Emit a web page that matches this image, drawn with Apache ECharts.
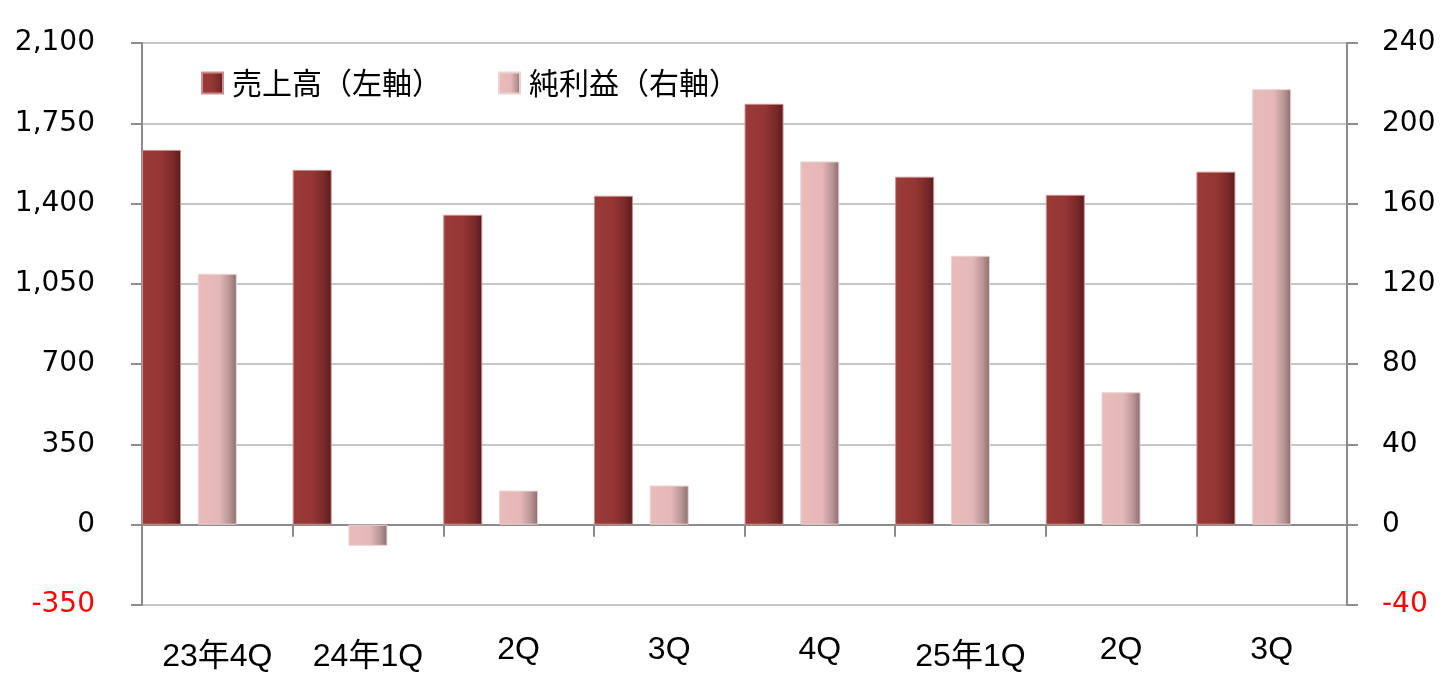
<!DOCTYPE html>
<html><head><meta charset="utf-8">
<script src="https://cdn.jsdelivr.net/npm/echarts@6/dist/echarts.min.js"></script>
<style>html,body{margin:0;padding:0;background:#fff}#c{width:1456px;height:689px}</style>
</head><body><div id="c"></div>
<script>
const categories = ['23年4Q','24年1Q','2Q','3Q','4Q','25年1Q','2Q','3Q'];
const sales = [1634, 1547, 1351, 1434, 1835, 1517, 1438, 1539];
const profit = [125, -10.5, 17, 19.5, 181, 134, 66, 217];
const leftTicks = {min: -350, max: 2100, interval: 350};
const rightTicks = {min: -40, max: 240, interval: 40};
const seriesNames = ['売上高（左軸）', '純利益（右軸）'];

const chart = echarts.init(document.getElementById('c'));
const salesColor = new echarts.graphic.LinearGradient(0,0,1,0,[
  {offset:0,color:'#9a3b39'},{offset:0.5,color:'#943634'},{offset:0.8,color:'#7a2a29'},{offset:1,color:'#581c1c'}]);
const profitColor = new echarts.graphic.LinearGradient(0,0,1,0,[
  {offset:0,color:'#e8bcbb'},{offset:0.55,color:'#e5b8b8'},{offset:0.82,color:'#b89494'},{offset:1,color:'#8a6c6c'}]);
const axisGray = '#8c8c8c';
const labelFont = 'Liberation Sans, Noto Sans CJK JP';
chart.setOption({
  animation:false,
  grid:{left:142,right:109,top:43,bottom:84,containLabel:false,outerBoundsMode:'none'},
  legend:{
    data:seriesNames, left:196, top:63, icon:'rect', itemWidth:21, itemHeight:21, itemGap:56,
    textStyle:{fontFamily:'Noto Sans CJK JP', fontSize:30, color:'#000', padding:[0,0,0,4]}
  },
  xAxis:[{
    type:'category', data:categories,
    axisLine:{onZero:true, lineStyle:{color:axisGray,width:2}},
    axisTick:{show:true,length:12,lineStyle:{color:axisGray,width:2}},
    axisLabel:{show:false}
  },{
    type:'category', data:categories, position:'bottom',
    axisLine:{show:false, onZero:false}, axisTick:{show:false},
    axisLabel:{
      margin:29, interval:0,
      formatter:v => v.indexOf('年')>=0 ? '{b|'+v+'}' : '{a|'+v+'}',
      rich:{
        a:{fontFamily:labelFont, fontSize:32, color:'#000'},
        b:{fontFamily:labelFont, fontSize:32, color:'#000', padding:[7,0,0,0]}
      }
    }
  }],
  yAxis:[
    {type:'value', min:leftTicks.min, max:leftTicks.max, interval:leftTicks.interval,
     axisLine:{show:true,lineStyle:{color:axisGray,width:2}},
     axisTick:{show:true,length:11,lineStyle:{color:axisGray,width:2}},
     splitLine:{show:true,lineStyle:{color:'#c6c6c6',width:2}},
     axisLabel:{margin:47, fontFamily:'DejaVu Sans', fontSize:28,
       color:v => Number(v)<0 ? '#ff0000' : '#000',
       formatter:v => v.toLocaleString('en-US')}},
    {type:'value', min:rightTicks.min, max:rightTicks.max, interval:rightTicks.interval, position:'right',
     axisLine:{show:true,lineStyle:{color:axisGray,width:2}},
     axisTick:{show:true,length:11,lineStyle:{color:axisGray,width:2}},
     splitLine:{show:false},
     axisLabel:{margin:35, fontFamily:'DejaVu Sans', fontSize:28,
       color:v => Number(v)<0 ? '#ff0000' : '#000'}}
  ],
  series:[
    {name:seriesNames[0], type:'bar', xAxisIndex:0, yAxisIndex:0, data:sales, barWidth:39, barGap:'43%',
     itemStyle:{color:salesColor, borderColor:'#c98f8e', borderWidth:1}},
    {name:seriesNames[1], type:'bar', xAxisIndex:0, yAxisIndex:1, data:profit, barWidth:39, barGap:'43%',
     itemStyle:{color:profitColor, borderColor:'#ecd2d2', borderWidth:1}},
    {name:'_spacer', type:'bar', xAxisIndex:0, yAxisIndex:0, data:[], barWidth:39, barGap:'43%'}
  ]
});
</script></body></html>
